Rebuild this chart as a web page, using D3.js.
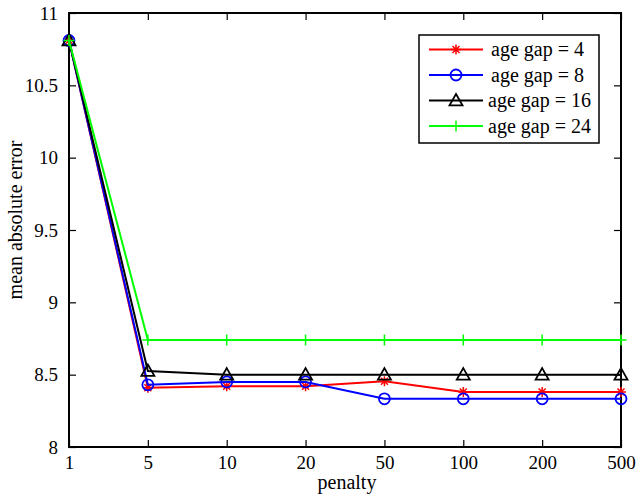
<!DOCTYPE html>
<html><head><meta charset="utf-8">
<script src="https://cdn.jsdelivr.net/npm/d3@7"></script>
<style>body{margin:0;background:#fff}svg{display:block}text{font-family:"Liberation Serif","Times New Roman",serif}</style>
</head><body><svg id="c" width="642" height="500"></svg>
<script>
const categories = ["1","5","10","20","50","100","200","500"];
const gap4  = [10.81, 8.41, 8.42, 8.42, 8.455, 8.38, 8.38, 8.38];
const gap8  = [10.81, 8.43, 8.45, 8.45, 8.333, 8.333, 8.333, 8.333];
const gap16 = [10.81, 8.525, 8.50, 8.50, 8.50, 8.50, 8.50, 8.50];
const gap24 = [10.81, 8.74, 8.74, 8.74, 8.74, 8.74, 8.74, 8.74];
const yTicks = [8, 8.5, 9, 9.5, 10, 10.5, 11];
const seriesNames = ["age gap = 4","age gap = 8","age gap = 16","age gap = 24"];
const seriesColors = ["#ff0000","#0000ff","#000000","#00ff00"];
const seriesMarkers = ["star","circle","triangle","plus"];
const seriesValues = [gap4, gap8, gap16, gap24];

const svg = d3.select("#c");
const L=69, R=621, T=13, B=447;
const x = d3.scalePoint().domain(categories).range([L,R]);
const y = d3.scaleLinear().domain([8,11]).range([B,T]);

const fmt = d => String(d);
const FS = 19;
// axes
svg.append("g").attr("transform",`translate(0,${B})`)
  .call(d3.axisBottom(x).tickSizeInner(-7).tickSizeOuter(0).tickPadding(9))
  .call(g=>{g.select(".domain").remove();g.selectAll("text").attr("font-size",FS).attr("fill","#000");g.selectAll("line").attr("stroke","#000").attr("stroke-width",1.2);});
svg.append("g").attr("transform",`translate(0,${T})`)
  .call(d3.axisTop(x).tickSizeInner(-7).tickSizeOuter(0).tickFormat(""))
  .call(g=>{g.select(".domain").remove();g.selectAll("line").attr("stroke","#000").attr("stroke-width",1.2);});
svg.append("g").attr("transform",`translate(${L},0)`)
  .call(d3.axisLeft(y).tickValues(yTicks).tickFormat(fmt).tickSizeInner(-7).tickSizeOuter(0).tickPadding(11))
  .call(g=>{g.select(".domain").remove();g.selectAll("text").attr("font-size",FS).attr("fill","#000");g.selectAll("line").attr("stroke","#000").attr("stroke-width",1.2);});
svg.append("g").attr("transform",`translate(${R},0)`)
  .call(d3.axisRight(y).tickValues(yTicks).tickFormat("").tickSizeInner(-7).tickSizeOuter(0))
  .call(g=>{g.select(".domain").remove();g.selectAll("line").attr("stroke","#000").attr("stroke-width",1.2);});
svg.append("rect").attr("x",L).attr("y",T).attr("width",R-L).attr("height",B-T)
  .attr("fill","none").attr("stroke","#000").attr("stroke-width",2);

// labels
svg.append("text").attr("x",347).attr("y",489).attr("text-anchor","middle").attr("font-size",20).text("penalty");
svg.append("text").attr("transform",`translate(22,220) rotate(-90)`).attr("text-anchor","middle").attr("font-size",20).text("mean absolute error");

function marker(g, type, color, cx, cy){
  if(type==="circle") g.append("circle").attr("cx",cx).attr("cy",cy).attr("r",5.5).attr("fill","none").attr("stroke",color).attr("stroke-width",1.8);
  else if(type==="triangle"){
    const s=6.5;
    g.append("path").attr("d",`M${cx},${cy-s}L${cx+s},${cy+s*0.75}L${cx-s},${cy+s*0.75}Z`).attr("fill","none").attr("stroke",color).attr("stroke-width",1.8);
  } else if(type==="plus"){
    const s=5.5;
    g.append("path").attr("d",`M${cx-s},${cy}H${cx+s}M${cx},${cy-s}V${cy+s}`).attr("stroke",color).attr("stroke-width",1.5);
  } else if(type==="star"){
    const s=5;
    let d=`M${cx-s},${cy}H${cx+s}M${cx},${cy-s}V${cy+s}`;
    const k=s*0.7;
    d+=`M${cx-k},${cy-k}L${cx+k},${cy+k}M${cx-k},${cy+k}L${cx+k},${cy-k}`;
    g.append("path").attr("d",d).attr("stroke",color).attr("stroke-width",1.5);
  }
}

const line = d3.line().x((d,i)=>x(categories[i])).y(d=>y(d));
seriesValues.forEach((vals,si)=>{
  const g = svg.append("g");
  g.append("path").datum(vals).attr("d",line).attr("fill","none").attr("stroke",seriesColors[si]).attr("stroke-width",2);
  vals.forEach((v,i)=>marker(g, seriesMarkers[si], seriesColors[si], x(categories[i]), y(v)));
});

// legend
const lg = svg.append("g");
lg.append("rect").attr("x",419).attr("y",35).attr("width",180).attr("height",108).attr("fill","#fff").attr("stroke","#000").attr("stroke-width",1.5);
seriesNames.forEach((n,i)=>{
  const yy = 49.5 + i*25.5;
  lg.append("line").attr("x1",429).attr("x2",483).attr("y1",yy).attr("y2",yy).attr("stroke",seriesColors[i]).attr("stroke-width",2);
  marker(lg, seriesMarkers[i], seriesColors[i], 456, yy);
  lg.append("text").attr("x", i<2?491:488).attr("y",yy+6.5).attr("font-size",20).text(n);
});
</script></body></html>
